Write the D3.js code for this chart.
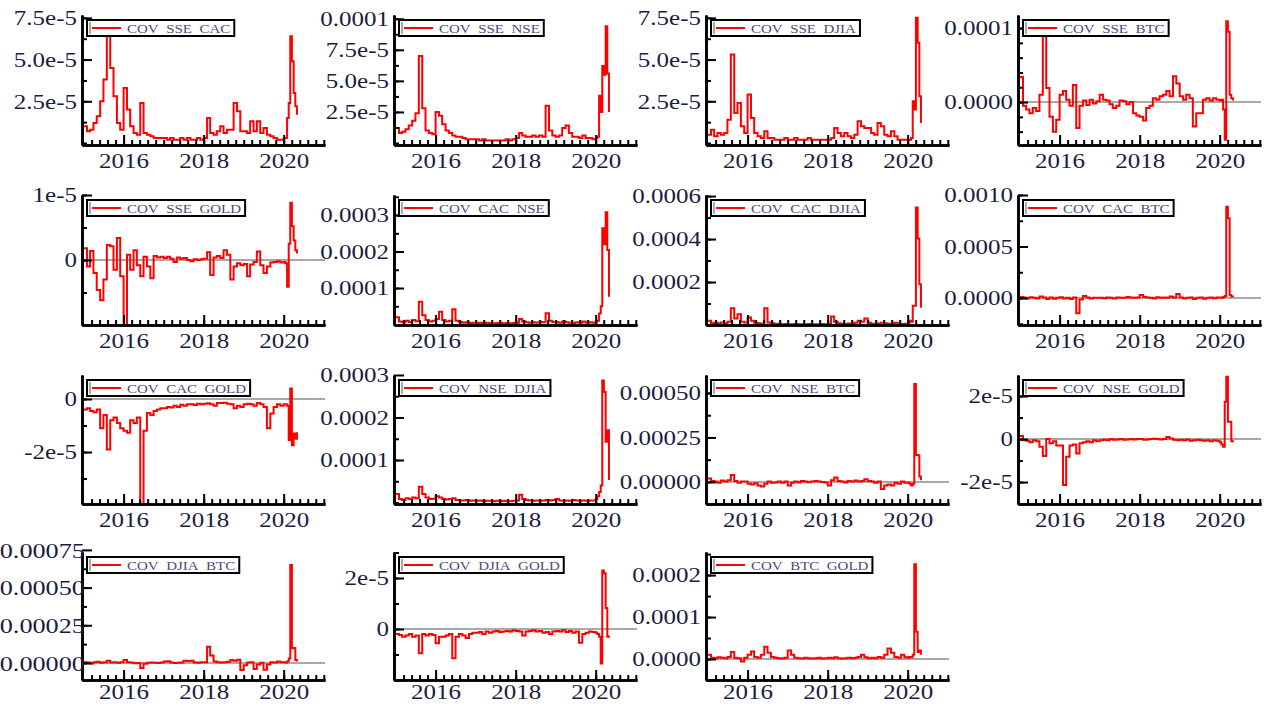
<!DOCTYPE html>
<html>
<head>
<meta charset="utf-8">
<script src="https://cdn.jsdelivr.net/npm/d3@7"></script>
<style>
  body { margin: 0; background: #fff; overflow: hidden; }
  svg { display: block; font-family: "Liberation Serif", "Times New Roman", serif; }
</style>
</head>
<body>
<script>
// monthly observations, then half-monthly through the 2020 spike
const dates = [
  "2015-01-01","2015-02-01","2015-03-01","2015-04-01","2015-05-01","2015-06-01","2015-07-01","2015-08-01","2015-09-01","2015-10-01","2015-11-01","2015-12-01",
  "2016-01-01","2016-02-01","2016-03-01","2016-04-01","2016-05-01","2016-06-01","2016-07-01","2016-08-01","2016-09-01","2016-10-01","2016-11-01","2016-12-01",
  "2017-01-01","2017-02-01","2017-03-01","2017-04-01","2017-05-01","2017-06-01","2017-07-01","2017-08-01","2017-09-01","2017-10-01","2017-11-01","2017-12-01",
  "2018-01-01","2018-02-01","2018-03-01","2018-04-01","2018-05-01","2018-06-01","2018-07-01","2018-08-01","2018-09-01","2018-10-01","2018-11-01","2018-12-01",
  "2019-01-01","2019-02-01","2019-03-01","2019-04-01","2019-05-01","2019-06-01","2019-07-01","2019-08-01","2019-09-01","2019-10-01","2019-11-01","2019-12-01",
  "2020-01-01","2020-01-16","2020-02-01","2020-02-16","2020-03-01","2020-03-16","2020-04-01","2020-04-16","2020-05-01"
];

// series values (unit noted per line)
const sseCac = [ // x1e-5
  1.0,0.7,0.8,1.2,1.6,2.5,3.8,6.8,4.5,2.8,1.2,0.8,
  3.3,2.0,1.0,0.6,0.5,2.4,0.6,0.5,0.4,0.3,0.3,0.3,
  0.3,0.2,0.3,0.2,0.2,0.3,0.2,0.3,0.2,0.2,0.3,0.2,
  0.3,1.5,0.6,0.5,0.7,1.0,0.6,0.8,0.8,2.4,1.9,0.7,
  0.7,0.6,1.3,0.7,1.3,0.6,0.9,0.5,0.4,0.3,0.2,0.2,
  0.3,0.3,1.5,2.4,6.4,4.9,3.0,2.2,1.7];
const sseNse = [ // x1e-5
  1.2,0.8,0.9,1.1,1.4,1.8,2.4,7.0,2.8,1.0,0.8,0.7,
  2.5,2.2,1.5,1.0,0.8,0.6,0.5,0.5,0.4,0.3,0.3,0.3,
  0.3,0.2,0.3,0.2,0.2,0.2,0.2,0.2,0.2,0.3,0.2,0.3,
  0.4,0.8,0.6,0.5,0.5,0.6,0.5,0.6,0.5,3.0,1.0,0.6,
  0.5,0.6,1.2,1.4,0.8,0.5,0.5,0.4,0.6,0.4,0.4,0.3,
  0.4,0.5,3.8,2.5,6.2,5.5,9.4,5.6,2.5];
const sseDjia = [ // x1e-5
  0.5,0.8,0.4,0.6,0.5,0.6,1.4,5.3,1.8,2.4,1.0,0.6,
  2.9,1.5,0.6,0.4,0.3,0.7,0.3,0.3,0.2,0.2,0.2,0.3,
  0.2,0.2,0.3,0.2,0.2,0.2,0.3,0.2,0.2,0.2,0.2,0.2,
  0.2,0.3,0.9,0.6,0.4,0.6,0.4,0.3,0.5,1.3,1.0,0.9,
  0.9,0.6,0.5,1.2,1.0,0.5,0.4,0.7,0.4,0.2,0.2,0.2,
  0.2,0.2,0.3,2.5,2.0,7.5,6.0,2.8,1.2];
const sseBtc = [ // x1e-5
  3.4,-0.5,-1.0,-1.5,-0.8,-1.2,1.0,9.0,1.9,-2.0,-4.0,-2.4,
  1.0,1.5,0.3,-0.5,2.3,-3.5,-0.5,0.2,-0.4,0.3,-0.2,0.1,
  1.0,0.3,0.2,-0.3,-0.8,-0.5,0.2,0.1,-0.3,0.0,-1.5,-1.8,
  -2.0,-2.5,-0.8,-0.5,0.5,0.3,0.8,1.0,1.5,0.8,3.5,2.5,
  0.8,0.3,1.0,0.5,-3.3,-1.5,-1.5,0.3,0.5,0.2,0.5,0.3,
  0.2,0.3,-1.0,-5.1,10.9,9.5,1.0,0.5,0.2];
const sseGold = [ // x1e-6
  1.8,-1.0,1.4,-2.0,-4.6,-6.2,-3.0,2.3,2.1,-1.5,3.4,-2.5,
  -10.0,0.8,-1.5,1.5,-0.8,-2.5,0.5,-1.0,-2.8,0.6,0.4,0.5,
  0.3,0.5,0.2,-0.3,0.4,0.2,0.3,0.0,-0.2,0.1,0.0,0.1,
  0.2,1.2,-2.3,0.4,0.6,0.3,1.5,0.8,-3.0,-1.0,-0.5,-0.8,
  -0.6,-2.5,-0.7,-0.3,1.3,-0.8,-2.0,-1.0,-0.4,-0.3,-0.2,-0.4,
  -0.3,-0.5,-4.1,2.5,8.8,5.2,3.0,1.5,1.0];
const cacNse = [ // x1e-5
  2.0,0.8,0.6,1.0,0.7,1.2,0.9,6.2,2.5,1.2,0.8,1.0,
  1.5,3.5,1.2,0.8,1.0,4.2,1.0,0.7,0.5,0.6,0.4,0.5,
  0.4,0.5,0.3,0.5,0.4,0.3,0.4,0.5,0.3,0.4,0.3,0.4,
  0.5,1.5,0.8,0.6,0.5,0.6,0.5,0.7,0.6,3.1,1.0,0.7,
  0.6,0.5,0.8,0.6,0.5,0.4,0.6,0.5,0.8,0.5,0.6,0.5,
  0.8,1.0,3.0,5.0,26.4,22.0,30.8,20.4,7.6];
const cacDjia = [ // x1e-5
  2.0,0.8,1.0,0.7,1.2,0.8,1.5,7.8,3.0,5.0,1.5,1.2,
  3.5,2.0,1.0,0.8,0.6,7.8,1.2,0.8,0.5,0.6,0.4,0.5,
  0.4,0.3,0.5,0.4,0.3,0.4,0.5,0.3,0.4,0.3,0.5,0.4,
  0.5,4.0,1.5,0.8,0.6,0.5,0.7,0.6,1.0,2.0,1.5,3.0,
  1.0,0.6,0.5,0.7,1.0,0.8,0.6,0.5,1.0,0.6,0.5,0.6,
  0.8,2.0,1.5,9.0,9.0,54.7,40.3,19.0,8.0];
const cacBtc = [ // x1e-5
  1.0,0.5,-0.5,0.8,0.3,-0.5,1.5,0.5,-1.0,0.5,-0.8,0.3,
  0.8,-0.5,0.3,-1.0,0.5,-14.9,-1.5,2.0,0.5,-0.5,0.3,0.2,
  0.2,-0.3,0.5,0.3,-0.5,0.4,0.2,0.3,1.0,0.5,0.2,0.4,
  3.0,1.0,0.5,0.3,-0.5,0.8,0.2,0.5,0.3,1.5,0.5,4.0,
  0.5,-0.5,0.3,0.5,-1.0,0.2,0.5,-0.8,0.3,0.5,-0.3,0.5,
  0.5,0.3,1.0,2.0,88.6,77.4,3.0,1.5,1.0];
const cacGold = [ // x1e-6
  -4.0,-3.5,-4.5,-5.0,-4.0,-11.0,-6.0,-19.0,-8.0,-7.0,-9.0,-11.0,
  -12.0,-12.7,-8.0,-9.0,-7.0,-40.0,-12.0,-5.3,-6.0,-4.5,-4.0,-3.5,
  -3.5,-3.0,-3.2,-2.5,-3.0,-2.2,-2.5,-2.0,-2.0,-2.3,-1.8,-2.0,
  -1.8,-1.6,-2.0,-2.5,-1.5,-1.5,-1.4,-1.8,-2.0,-3.5,-2.5,-3.0,
  -2.0,-1.8,-2.0,-2.5,-1.5,-2.0,-3.0,-11.0,-5.5,-3.0,-2.0,-2.5,
  -2.0,-2.0,-2.5,-15.5,4.0,-17.4,-13.0,-15.0,-12.5];
const nseDjia = [ // x1e-5
  2.0,0.8,0.6,1.0,0.8,1.2,1.0,3.7,2.0,1.2,0.8,0.9,
  1.5,1.2,0.8,0.7,0.8,1.0,0.6,0.5,0.5,0.6,0.4,0.5,
  0.4,0.5,0.3,0.4,0.4,0.3,0.4,0.3,0.4,0.3,0.3,0.4,
  0.5,1.8,0.8,0.6,0.5,0.4,0.5,0.4,0.5,0.6,0.5,0.6,
  0.8,0.5,0.4,0.5,0.4,0.6,0.5,0.4,0.5,0.4,0.5,0.5,
  0.8,1.5,2.5,4.0,28.7,26.0,14.3,17.0,5.3];
const nseBtc = [ // x1e-5
  2.0,0.5,0.3,-0.5,0.8,0.3,1.0,3.9,0.5,-0.5,0.3,0.2,
  -1.0,-1.5,-0.8,-2.0,-2.6,-1.0,0.3,-0.5,-0.3,0.2,-0.5,0.3,
  -2.0,-0.5,0.3,-0.3,0.5,0.2,-0.2,0.3,0.5,0.2,0.0,-0.3,
  -2.0,1.0,2.5,0.5,0.3,-0.3,0.5,0.2,0.8,0.3,0.5,1.5,
  0.5,0.3,-0.5,0.2,-4.0,-2.0,-1.5,-2.0,-0.5,-1.0,0.3,-0.5,
  -0.5,-1.0,-2.0,-1.0,55.0,15.2,15.0,3.0,1.0];
const nseGold = [ // x1e-6
  1.4,-0.5,-0.8,-1.5,-0.5,-1.0,-3.6,-7.9,0.0,-2.0,-1.0,-3.0,
  -3.0,-21.4,-8.2,-3.0,-2.5,-6.7,-2.0,-1.5,-1.0,-1.5,-0.5,-1.0,
  -0.5,-0.3,-0.5,0.0,-0.3,-0.2,0.0,-0.3,-0.2,0.0,-0.2,0.0,
  0.0,-0.3,-0.2,0.0,0.2,0.0,-0.2,0.0,1.0,0.3,-0.3,-0.5,
  -0.3,-0.5,-0.2,-0.8,-0.5,-0.3,-0.5,-0.8,-0.5,-1.0,-0.5,-0.8,
  -1.5,-2.5,-3.6,17.4,29.0,8.0,8.0,-1.0,-0.5];
const djiaBtc = [ // x1e-5
  0.5,0.3,-0.3,0.5,0.8,0.2,0.5,1.5,0.3,0.5,0.2,0.5,
  2.0,0.5,0.3,-0.2,0.0,-3.3,-0.5,0.2,0.3,0.1,0.0,0.3,
  1.0,1.2,0.3,0.0,0.2,0.3,1.5,1.3,1.5,0.3,0.2,0.5,
  0.5,10.8,5.0,1.0,0.5,0.3,0.5,0.8,2.0,1.5,2.2,-4.6,
  -1.5,0.3,0.5,-4.0,-1.0,0.2,-4.5,-1.0,0.5,0.3,1.0,0.5,
  0.5,0.3,1.0,3.0,64.9,9.7,10.0,2.0,1.0];
const djiaGold = [ // x1e-6
  -2.0,-2.4,-3.0,-2.5,-2.0,-3.0,-2.5,-9.5,-2.0,-2.5,-2.0,-2.4,
  -5.6,-3.0,-3.0,-2.5,-2.0,-11.5,-3.0,-2.0,-2.5,-3.5,-2.0,-1.5,
  -1.5,-1.2,-2.0,-1.0,-1.5,-1.0,-0.8,-1.2,-1.0,-0.8,-1.0,-0.5,
  -0.8,-1.0,-2.5,-1.0,-0.8,-0.5,-1.0,-0.8,-1.5,-1.2,-2.0,-1.0,
  -0.8,-1.0,-0.5,-1.2,-0.8,-1.5,-1.0,-5.4,-2.0,-1.5,-1.0,-1.2,
  -1.5,-2.0,-3.0,-13.5,22.9,21.9,8.2,-3.0,-2.5];
const btcGold = [ // x1e-5
  1.0,0.3,0.2,0.4,0.3,0.2,0.5,1.7,0.3,0.2,-0.6,0.3,
  1.0,1.8,0.5,0.3,1.0,2.9,1.5,0.5,0.3,0.2,0.1,0.3,
  2.0,1.0,0.3,0.2,0.1,0.3,0.2,0.1,0.2,0.3,0.1,0.2,
  0.3,0.2,0.4,0.2,0.1,0.2,0.3,0.2,0.3,0.5,1.0,0.4,
  0.2,0.3,0.2,0.5,0.3,1.0,2.5,1.5,0.5,0.3,1.0,0.4,
  0.3,0.5,0.4,1.0,22.6,6.5,1.7,2.0,1.0];

// tick labels
const yearLabels = ["2016", "2018", "2020"];
const ticksSseCac = ["2.5e-5", "5.0e-5", "7.5e-5"];
const ticksSseNse = ["2.5e-5", "5.0e-5", "7.5e-5", "0.0001"];
const ticksSseDjia = ["2.5e-5", "5.0e-5", "7.5e-5"];
const ticksSseBtc = ["0.0000", "0.0001"];
const ticksSseGold = ["0", "1e-5"];
const ticksCacNse = ["0.0001", "0.0002", "0.0003"];
const ticksCacDjia = ["0.0002", "0.0004", "0.0006"];
const ticksCacBtc = ["0.0000", "0.0005", "0.0010"];
const ticksCacGold = ["-2e-5", "0"];
const ticksNseDjia = ["0.0001", "0.0002", "0.0003"];
const ticksNseBtc = ["0.00000", "0.00025", "0.00050"];
const ticksNseGold = ["-2e-5", "0", "2e-5"];
const ticksDjiaBtc = ["0.00000", "0.00025", "0.00050", "0.00075"];
const ticksDjiaGold = ["0", "2e-5"];
const ticksBtcGold = ["0.0000", "0.0001", "0.0002"];

const panels = [
  {name: "COV_SSE_CAC",  values: sseCac,  unit: 1e-5, col: 0, row: 0, domain: [-0.12e-5, 7.67e-5], labels: ticksSseCac,  minor: 1.25e-5},
  {name: "COV_SSE_NSE",  values: sseNse,  unit: 1e-5, col: 1, row: 0, domain: [-0.16e-5, 10.3e-5], labels: ticksSseNse,  minor: 1.25e-5},
  {name: "COV_SSE_DJIA", values: sseDjia, unit: 1e-5, col: 2, row: 0, domain: [-0.12e-5, 7.67e-5], labels: ticksSseDjia, minor: 1.25e-5},
  {name: "COV_SSE_BTC",  values: sseBtc,  unit: 1e-5, col: 3, row: 0, domain: [-5.8e-5, 11.76e-5], labels: ticksSseBtc,  minor: 2e-5},
  {name: "COV_SSE_GOLD", values: sseGold, unit: 1e-6, col: 0, row: 1, domain: [-1e-5, 1e-5],        labels: ticksSseGold, minor: 5e-6},
  {name: "COV_CAC_NSE",  values: cacNse,  unit: 1e-5, col: 1, row: 1, domain: [-0.014e-4, 3.55e-4], labels: ticksCacNse,  minor: 0.5e-4},
  {name: "COV_CAC_DJIA", values: cacDjia, unit: 1e-5, col: 2, row: 1, domain: [0, 6.05e-4],        labels: ticksCacDjia, minor: 1e-4},
  {name: "COV_CAC_BTC",  values: cacBtc,  unit: 1e-5, col: 3, row: 1, domain: [-2.62e-4, 1.0e-3],   labels: ticksCacBtc,  minor: 2.5e-4},
  {name: "COV_CAC_GOLD", values: cacGold, unit: 1e-6, col: 0, row: 2, domain: [-3.96e-5, 0.906e-5], labels: ticksCacGold, minor: 1e-5},
  {name: "COV_NSE_DJIA", values: nseDjia, unit: 1e-5, col: 1, row: 2, domain: [-0.035e-4, 3.0e-4],  labels: ticksNseDjia, minor: 0.5e-4},
  {name: "COV_NSE_BTC",  values: nseBtc,  unit: 1e-5, col: 2, row: 2, domain: [-1.24e-4, 6.01e-4],  labels: ticksNseBtc,  minor: 1.25e-4},
  {name: "COV_NSE_GOLD", values: nseGold, unit: 1e-6, col: 3, row: 2, domain: [-3.02e-5, 2.98e-5],  labels: ticksNseGold, minor: 1e-5},
  {name: "COV_DJIA_BTC", values: djiaBtc, unit: 1e-5, col: 0, row: 3, domain: [-1.13e-4, 7.36e-4],  labels: ticksDjiaBtc, minor: 1.25e-4, labelDx: 8, labelSize: 21},
  {name: "COV_DJIA_GOLD",values: djiaGold,unit: 1e-6, col: 1, row: 3, domain: [-2.0e-5, 3.02e-5],   labels: ticksDjiaGold,minor: 1e-5},
  {name: "COV_BTC_GOLD", values: btcGold, unit: 1e-5, col: 2, row: 3, domain: [-0.5e-4, 2.55e-4],   labels: ticksBtcGold, minor: 0.5e-4}
];

// layout
var colX = [82, 394, 706, 1018], plotW = 243;
var rowTop = [15, 195, 375, 552], rowBottom = [145, 325, 504, 680];
var yearGap = [23, 23, 23, 19];
var tickColor = "#1c1c42";

var parse = d3.timeParse("%Y-%m-%d");
var when = dates.map(parse);

// decimal year -> Date
function yr(v) {
  var y0 = Math.floor(v), a = new Date(y0, 0, 1), b = new Date(y0 + 1, 0, 1);
  return new Date(+a + (v - y0) * (b - a));
}

var svg = d3.select("body").append("svg")
    .attr("width", 1264)
    .attr("height", 709);

panels.forEach(function(p) {
  var x0 = colX[p.col], top = rowTop[p.row], bottom = rowBottom[p.row];

  var x = d3.scaleTime().domain([yr(2014.96), yr(2021.03)]).range([x0, x0 + plotW]),
      y = d3.scaleLinear().domain(p.domain).range([bottom, top]);

  var g = svg.append("g");

  // zero line
  if (y(0) < bottom - 3 && y(0) > top) {
    g.append("line")
        .attr("x1", x0).attr("x2", x0 + plotW)
        .attr("y1", y(0)).attr("y2", y(0))
        .attr("stroke", "#8c8c8c")
        .attr("stroke-width", 1.6);
  }

  var line = d3.line()
      .x(function(d, i) { return x(when[i]); })
      .y(function(d) { return y(d * p.unit); })
      .curve(d3.curveStepAfter);

  g.append("path")
      .datum(p.values)
      .attr("fill", "none")
      .attr("stroke", "#ff0000")
      .attr("stroke-width", 2)
      .attr("d", line);

  // x axis: minor ticks every 0.2 year, labelled majors every 2 years
  var minorX = d3.range(1, 31).map(function(k) { return yr(2015 + k * 0.2); });
  g.append("g")
      .attr("transform", "translate(0," + bottom + ")")
      .call(d3.axisBottom(x).tickValues(minorX).tickSize(-5).tickSizeOuter(0).tickFormat(""));
  var xa = g.append("g")
      .attr("transform", "translate(0," + bottom + ")")
      .call(d3.axisBottom(x)
        .tickValues(yearLabels.map(function(s) { return yr(+s); }))
        .tickSize(-10).tickSizeOuter(0)
        .tickFormat(function(d, i) { return yearLabels[i]; }));
  xa.selectAll("text")
      .attr("y", yearGap[p.row])
      .attr("dy", null)
      .attr("fill", tickColor)
      .attr("font-size", 20)
      .attr("transform", "scale(1.25,1)");

  // y axis
  var major = p.labels.map(Number);
  var minorY = d3.range(Math.ceil(p.domain[0] / p.minor), Math.floor(p.domain[1] / p.minor) + 1)
      .map(function(k) { return k * p.minor; })
      .filter(function(v) { return v >= p.domain[0] && v <= p.domain[1]; });
  g.append("g")
      .attr("transform", "translate(" + x0 + ",0)")
      .call(d3.axisLeft(y).tickValues(minorY).tickSize(-5).tickSizeOuter(0).tickFormat(""));
  var ya = g.append("g")
      .attr("transform", "translate(" + x0 + ",0)")
      .call(d3.axisLeft(y).tickValues(major).tickSize(-10).tickSizeOuter(0)
        .tickFormat(function(d, i) { return p.labels[i]; }));
  ya.selectAll("text")
      .attr("x", 0)
      .attr("dy", "0.34em")
      .attr("fill", tickColor)
      .attr("font-size", p.labelSize || 20)
      .attr("transform", "translate(" + (-5 + (p.labelDx || 0)) + ",0) scale(1.25,1)");

  g.selectAll(".domain").attr("stroke-width", 2.6);
  g.selectAll(".tick line").attr("stroke-width", 2);
  g.selectAll("g").attr("font-family", null);

  // legend box with a doubled left edge
  var lg = g.append("g").attr("transform", "translate(" + (x0 + 5) + "," + (top + 5) + ")");
  var back = lg.append("rect").attr("fill", "#fff").attr("stroke", "#000").attr("stroke-width", 2).attr("height", 16);
  lg.append("line")
      .attr("x1", 3).attr("x2", 3).attr("y1", 2).attr("y2", 14)
      .attr("stroke", "#555").attr("stroke-width", 1);
  lg.append("line")
      .attr("x1", 5).attr("x2", 34).attr("y1", 8).attr("y2", 8)
      .attr("stroke", "#ff0000").attr("stroke-width", 2);
  var t = lg.append("text")
      .attr("x", 0).attr("y", 0)
      .attr("transform", "translate(40,12.5) scale(1.2,1)")
      .attr("font-size", 12.5)
      .attr("fill", "#4c4c7c")
      .text(p.name.replace(/_/g, "\u00a0\u00a0"));
  var w = t.node().getComputedTextLength() * 1.2;
  back.attr("width", 40 + w + 4);
});
</script>
</body>
</html>
